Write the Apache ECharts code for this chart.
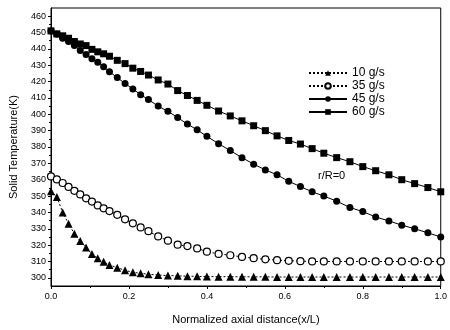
<!DOCTYPE html>
<html>
<head>
<meta charset="utf-8">
<script src="https://cdn.jsdelivr.net/npm/echarts@6/dist/echarts.min.js"></script>
<style>
  html, body { margin: 0; padding: 0; background: #fff; }
  #chart { width: 450px; height: 330px; }
</style>
</head>
<body>
<div id="chart"></div>
<script>
// normalized axial distance (x/L) of the plotted points
const xPos = [0, 0.015, 0.03, 0.045, 0.06, 0.075, 0.09, 0.105, 0.12, 0.135, 0.15,
  0.17, 0.19, 0.21, 0.23, 0.25, 0.275, 0.3, 0.325, 0.35, 0.375, 0.4,
  0.43, 0.46, 0.49, 0.52, 0.55, 0.58, 0.61, 0.64, 0.67, 0.7,
  0.733, 0.767, 0.8, 0.833, 0.867, 0.9, 0.933, 0.967, 1.0]

// solid temperature (K) for each flow rate
const t10 = [353, 349.5, 340, 333, 327, 322.5, 318.5, 314.6, 312, 309.8, 307.8,
  306.2, 304.6, 303.4, 302.8, 302.2, 301.7, 301.4, 301.2, 301, 300.9, 300.8,
  300.7, 300.7, 300.6, 300.6, 300.6, 300.5, 300.5, 300.5, 300.5, 300.5,
  300.5, 300.5, 300.5, 300.5, 300.5, 300.5, 300.5, 300.5, 300.5]
const t35 = [362, 360.2, 358, 355.6, 353.2, 351, 348.6, 346.6, 344.3, 342.5, 340.8,
  338.5, 335.8, 333.3, 330.8, 328.5, 325.3, 322.7, 320.3, 319.4, 318, 316,
  314.6, 313.8, 312.8, 312, 311.3, 310.8, 310.4, 310.2, 310, 310,
  310, 310, 310, 310, 310, 310, 310, 310, 310]
const t45 = [451, 449, 446.5, 444.5, 442, 439, 436.5, 434, 431.8, 429, 426,
  422.5, 418.8, 415.5, 412, 409, 405, 401.8, 398, 394, 390.5, 386.5,
  382, 377.8, 373.5, 369.5, 366, 363, 359, 355.8, 352.6, 350,
  346.9, 343, 340.5, 337.2, 334.8, 332.2, 330, 327.5, 325]
const t60 = [451, 449.2, 448, 446.5, 444.5, 443, 442, 439.7, 438.2, 437, 435.5,
  433, 431, 428.2, 426.2, 424, 421, 418.5, 414.5, 411.5, 408.5, 405.5,
  402, 399, 396, 393, 390, 386.8, 384, 381.8, 379, 376.2,
  373.5, 371, 368, 365.5, 363, 360, 357.6, 355.2, 352.6]

const yTicks = [300, 310, 320, 330, 340, 350, 360, 370, 380, 390, 400, 410, 420, 430, 440, 450, 460]
const yMinor = [305, 315, 325, 335, 345, 355, 365, 375, 385, 395, 405, 415, 425, 435, 445, 455]
const xTicks = [0, 0.2, 0.4, 0.6, 0.8, 1.0]
const xMinor = [0.1, 0.3, 0.5, 0.7, 0.9]

const pairs = (ys) => xPos.map((x, i) => [x, ys[i]])

const font = 'Liberation Sans, Arial, sans-serif'
const black = '#000'

const dom = echarts.init(document.getElementById('chart'))
const option = {
  animation: false,
  backgroundColor: '#fff',
  grid: {
    left: 46,
    right: 5,
    top: 8,
    bottom: 44,
    show: true,
    borderColor: black,
    borderWidth: 1
  },
  legend: {
    orient: 'vertical',
    left: 303,
    top: 62,
    itemWidth: 38,
    itemHeight: 7,
    itemGap: 1,
    textStyle: { fontFamily: font, fontSize: 12, lineHeight: 10, color: black },
    data: ['10 g/s', '35 g/s', '45 g/s', '60 g/s']
  },
  xAxis: [
    {
      type: 'value',
      min: 0,
      max: 1,
      name: 'Normalized axial distance(x/L)',
      nameLocation: 'middle',
      nameGap: 28,
      nameTextStyle: { fontFamily: font, fontSize: 11, color: black },
      axisLine: { lineStyle: { color: black, width: 1 } },
      axisTick: { show: true, length: 3, customValues: xTicks, lineStyle: { color: black } },
      axisLabel: {
        customValues: xTicks,
        fontFamily: font, fontSize: 9, color: black, margin: 6,
        formatter: (v) => v.toFixed(1)
      },
      splitLine: { show: false }
    },
    {
      type: 'value',
      position: 'bottom',
      min: 0,
      max: 1,
      axisLine: { show: false },
      axisTick: { show: true, length: 2, customValues: xMinor, lineStyle: { color: black } },
      axisLabel: { show: false },
      splitLine: { show: false }
    }
  ],
  yAxis: [
    {
      type: 'value',
      min: 295,
      max: 465,
      name: 'Solid Temperature(K)',
      nameLocation: 'middle',
      nameGap: 32,
      nameTextStyle: { fontFamily: font, fontSize: 11, color: black },
      axisLine: { show: true, lineStyle: { color: black, width: 1 } },
      axisTick: { show: true, length: 3, customValues: yTicks, lineStyle: { color: black } },
      axisLabel: { customValues: yTicks, fontFamily: font, fontSize: 9, color: black, margin: 5 },
      splitLine: { show: false }
    },
    {
      type: 'value',
      position: 'left',
      min: 295,
      max: 465,
      axisLine: { show: false },
      axisTick: { show: true, length: 2, customValues: yMinor, lineStyle: { color: black } },
      axisLabel: { show: false },
      splitLine: { show: false }
    }
  ],
  graphic: [
    {
      type: 'text',
      left: 318,
      top: 170,
      style: { text: 'r/R=0', fontFamily: font, fontSize: 11, fill: black }
    }
  ],
  series: [
    {
      name: '10 g/s',
      type: 'line',
      data: pairs(t10),
      symbol: 'triangle',
      symbolSize: 8,
      itemStyle: { color: black },
      lineStyle: { color: black, width: 1, type: [2, 2] }
    },
    {
      name: '35 g/s',
      type: 'line',
      data: pairs(t35),
      symbol: 'circle',
      symbolSize: 7,
      itemStyle: { color: '#fff', borderColor: black, borderWidth: 1.2 },
      lineStyle: { color: black, width: 1, type: [2, 2] }
    },
    {
      name: '45 g/s',
      type: 'line',
      data: pairs(t45),
      symbol: 'circle',
      symbolSize: 7,
      itemStyle: { color: black },
      lineStyle: { color: black, width: 1 }
    },
    {
      name: '60 g/s',
      type: 'line',
      data: pairs(t60),
      symbol: 'rect',
      symbolSize: 7,
      itemStyle: { color: black },
      lineStyle: { color: black, width: 1 }
    }
  ]
}
dom.setOption(option)
window.addEventListener('resize', () => dom.resize())
</script>
</body>
</html>
